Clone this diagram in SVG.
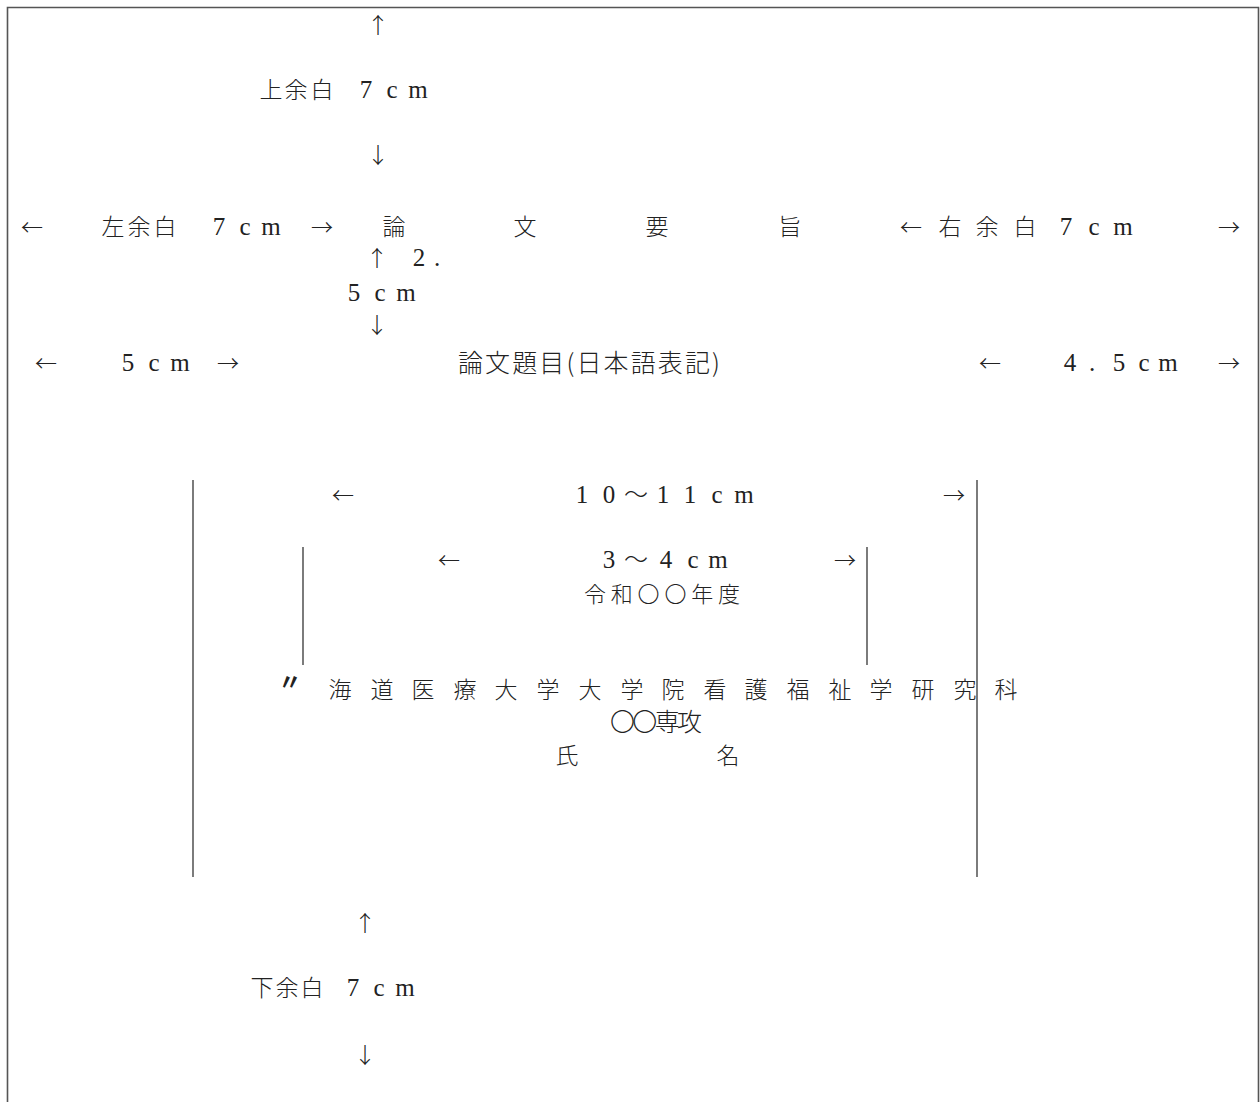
<svg xmlns="http://www.w3.org/2000/svg" width="1260" height="1102" viewBox="0 0 1260 1102">
<style>
text{fill:#222;text-anchor:middle}
.k{font-family:"Noto Sans CJK JP","Noto Sans CJK SC",sans-serif;font-size:23px;font-weight:300}
.g{font-family:"Noto Sans CJK JP","Noto Sans CJK SC",sans-serif;font-size:25px;font-weight:300}
.s{font-family:"Liberation Serif","Noto Sans CJK JP",serif;font-size:25px}
.w{font-family:"Noto Sans CJK JP","Noto Sans CJK SC",sans-serif;font-size:24px;font-weight:300}
.a{font-family:"Noto Sans CJK JP","Noto Sans CJK SC",sans-serif;font-size:22px;font-weight:300}
.frame{fill:none;stroke:#555;stroke-width:1.6}
.dim{stroke:#444;stroke-width:1.4}
</style>
<rect x="0" y="0" width="1260" height="1102" fill="#fff"/>
<path class="frame" d="M7.5,1102 V7.5 H1258.5 V1102"/>
<g id="connectors">
<line class="dim" x1="193" y1="480" x2="193" y2="877"/>
<line class="dim" x1="977" y1="480" x2="977" y2="877"/>
<line class="dim" x1="303" y1="547" x2="303" y2="665"/>
<line class="dim" x1="867" y1="547" x2="867" y2="665"/>
</g>
<g id="top-margin">
<text class="a" x="378" y="33">↑</text>
<text><tspan class="k" x="271 296 322" y="98">上余白</tspan><tspan class="s" x="366 392 418" y="98">7cm</tspan></text>
<text class="a" x="378" y="163">↓</text>
</g>
<g id="left-margin">
<text class="a" x="32" y="235">←</text>
<text><tspan class="k" x="113 139 165" y="235">左余白</tspan><tspan class="s" x="219 245 271" y="235">7cm</tspan></text>
<text class="a" x="322" y="235">→</text>
</g>
<g id="title">
<text class="k" x="394 525 657 790" y="235">論文要旨</text>
</g>
<g id="right-margin">
<text class="a" x="911" y="235">←</text>
<text><tspan class="k" x="950 987 1025" y="235">右余白</tspan><tspan class="s" x="1066 1094 1123" y="235">7cm</tspan></text>
<text class="a" x="1229" y="235">→</text>
</g>
<g id="gap-2-5cm">
<text class="a" x="377" y="266">↑</text>
<text class="s" x="419 437" y="266">2.</text>
<text class="s" x="354 380 406" y="301">5cm</text>
<text class="a" x="377" y="333">↓</text>
</g>
<g id="left-5cm">
<text class="a" x="46" y="371">←</text>
<text class="s" x="128 154 180" y="371">5cm</text>
<text class="a" x="228" y="371">→</text>
</g>
<g id="thesis-title">
<text class="g" x="589" y="372" textLength="262" lengthAdjust="spacing">論文題目(日本語表記)</text>
</g>
<g id="right-4-5cm">
<text class="a" x="990" y="371">←</text>
<text class="s" x="1070 1092 1119 1144 1168" y="371">4.5cm</text>
<text class="a" x="1229" y="371">→</text>
</g>
<g id="width-10-11cm">
<text class="a" x="343" y="503">←</text>
<text><tspan class="s" x="582 609" y="503">10</tspan><tspan class="w" x="636" y="503">～</tspan><tspan class="s" x="663 690 717 744" y="503">11cm</tspan></text>
<text class="a" x="954" y="503">→</text>
</g>
<g id="width-3-4cm">
<text class="a" x="449" y="568">←</text>
<text><tspan class="s" x="609" y="568">3</tspan><tspan class="w" x="636" y="568">～</tspan><tspan class="s" x="666 693 718" y="568">4cm</tspan></text>
<text class="a" x="845" y="568">→</text>
</g>
<g id="year">
<text class="k" x="662" y="602" style="font-size:22px" textLength="156" lengthAdjust="spacing">令和〇〇年度</text>
</g>
<g id="school">
<text class="k" x="290" y="690" style="font-weight:700">〃</text>
<text class="k" x="340 382 423 465 506 548 590 632 673 715 756 798 840 881 923 965 1006" y="698">海道医療大学大学院看護福祉学研究科</text>
</g>
<g id="major">
<text class="g" x="656" y="731" textLength="92" lengthAdjust="spacing">〇〇専攻</text>
</g>
<g id="name">
<text class="k" x="567 728" y="764">氏名</text>
</g>
<g id="bottom-margin">
<text class="a" x="365" y="931">↑</text>
<text><tspan class="k" x="262 287 312" y="996">下余白</tspan><tspan class="s" x="353 379 405" y="996">7cm</tspan></text>
<text class="a" x="365" y="1063">↓</text>
</g>
</svg>
